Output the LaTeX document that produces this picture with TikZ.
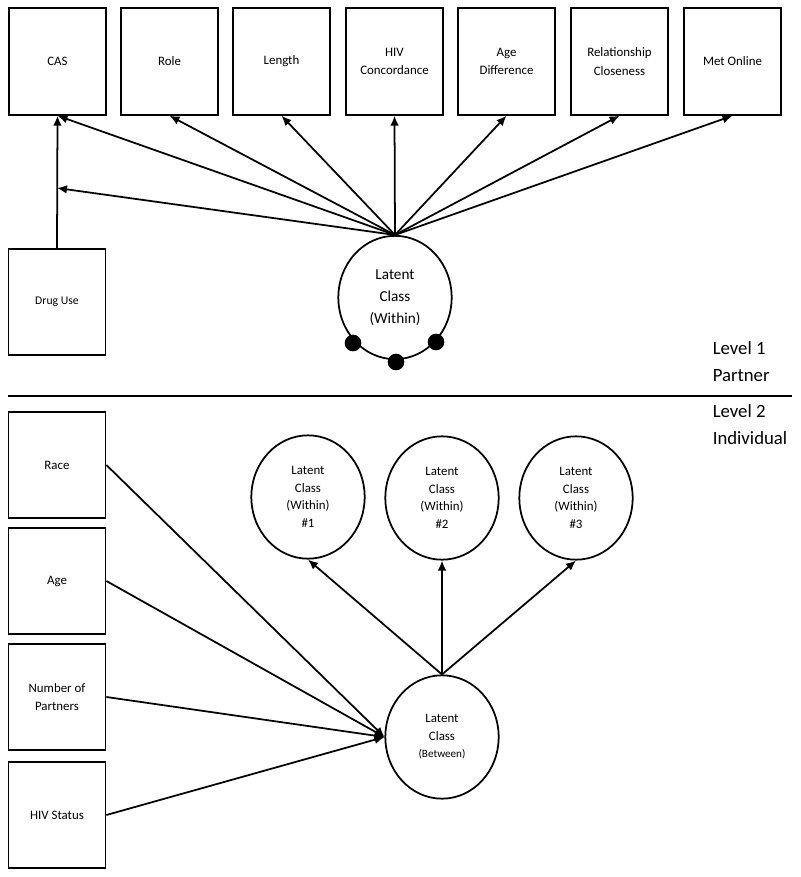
\documentclass[tikz,border=0pt]{standalone}
\usepackage{fontspec}
\setmainfont{Carlito}
\usetikzlibrary{arrows.meta,shapes.geometric}

\begin{document}
\begin{tikzpicture}
  [x=0.03cm,y=-0.03cm,line width=1.5pt,
   var/.style={draw,rectangle,minimum width=2.91cm,minimum height=3.2cm,
     align=center,font=\fontsize{11}{16}\selectfont},
   lat/.style={draw,ellipse,minimum width=3.4cm,minimum height=3.7cm,
     inner sep=0pt,align=center,font=\fontsize{11}{15}\selectfont},
   dot/.style={circle,fill=black,minimum size=0.5cm,inner sep=0pt},
   lvl/.style={anchor=west,align=left,font=\fontsize{16}{23}\selectfont},
   arr/.style={-{Latex[length=3mm,width=2.6mm]}}]
  \useasboundingbox (0,0) rectangle (800,877);

  % level 1: partner
  \node[var] (cas) at (57.5,61.5) {CAS};
  \node[var] (role) at (169.5,61.5) {Role};
  \node[var] (len) at (281.5,61.5) {Length};
  \node[var] (hivc) at (394.5,61.5) {HIV\\Concordance};
  \node[var] (agediff) at (506.5,61.5) {Age\\Difference};
  \node[var] (close) at (619.5,61.5) {Relationship\\Closeness};
  \node[var] (online) at (732.5,61.5) {Met Online};
  \node[var,font=\fontsize{10}{14}\selectfont] (drug) at (57,302) {Drug Use};
  \node[lat,font=\fontsize{13}{19}\selectfont] (lcw) at (395,297.5)
    {Latent\\Class\\(Within)};
  \node[dot] (d1) at (353,343) {};
  \node[dot] (d2) at (396,362) {};
  \node[dot] (d3) at (436,342) {};
  \coordinate (dm) at (57,188);

  \foreach \to in {cas,role,len,hivc,agediff,close,online}
    \draw[arr] (lcw.north) -- (\to.south);
  \draw[arr] (lcw.north) -- (dm);
  \draw[arr] (drug.north) -- (cas.south);

  \draw[line width=2.2pt] (8,396) -- (792,396);
  \node[lvl] (lv1) at (708,362) {Level 1\\Partner};
  \node[lvl] (lv2) at (708,425) {Level 2\\Individual};

  % level 2: individual
  \node[var] (race) at (57,465) {Race};
  \node[var] (age) at (57,581) {Age};
  \node[var] (npart) at (57,697) {Number of\\Partners};
  \node[var] (hivs) at (57,815) {HIV Status};
  \node[lat] (lw1) at (308,497) {Latent\\Class\\(Within)\\\#1};
  \node[lat] (lw2) at (442,498) {Latent\\Class\\(Within)\\\#2};
  \node[lat] (lw3) at (576,498) {Latent\\Class\\(Within)\\\#3};
  \node[lat] (lcb) at (442,737)
    {Latent\\Class\\{\fontsize{9.5}{15}\selectfont(Between)}};

  \foreach \to in {lw1,lw2,lw3}
    \draw[arr] (lcb.north) -- (\to.south);
  \foreach \from in {race,age,npart,hivs}
    \draw[arr] (\from.east) -- (lcb.west);
\end{tikzpicture}
\end{document}
